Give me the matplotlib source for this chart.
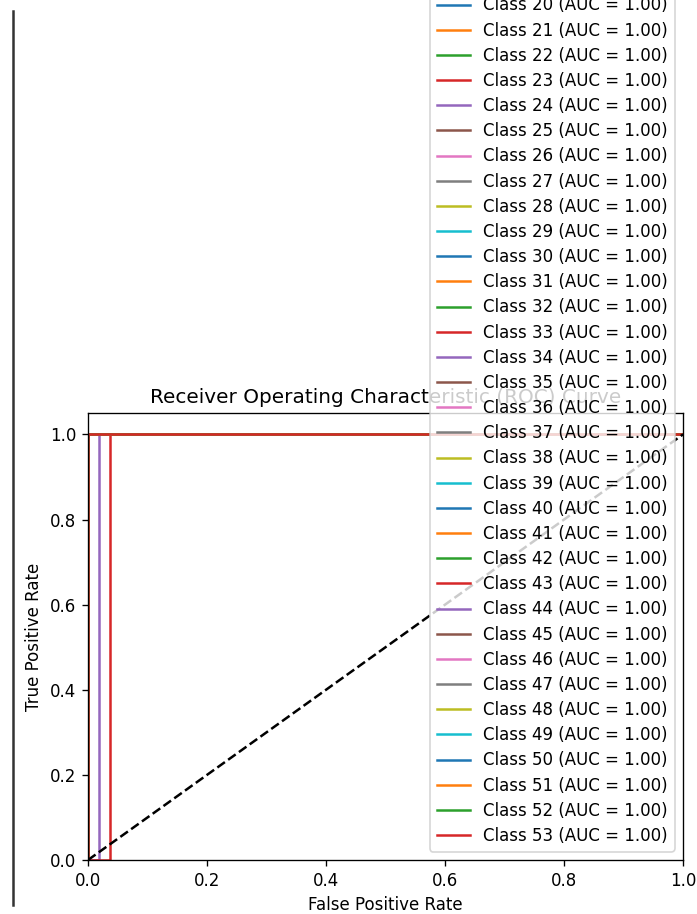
import numpy as np
import matplotlib
matplotlib.use("Agg")
import matplotlib.pyplot as plt
from matplotlib.lines import Line2D

# ROC curves for 54 classes: most are perfect, two reach TPR=1 after a small FPR step
n_classes = 54
class_ids = list(range(n_classes))
perfect_fpr = [0.0, 0.0, 1.0]
perfect_tpr = [0.0, 1.0, 1.0]
# classes whose curve jumps to TPR=1 only at a non-zero FPR
step_classes = {4: 1 / 54, 13: 2 / 54}

fig = plt.figure(figsize=(697 / 120, 914 / 120), dpi=120)
ax = fig.add_axes([0.1263, 0.0591, 0.8537, 0.4889])

for i in class_ids:
    if i in step_classes:
        s = step_classes[i]
        fpr = [0.0, s, s, 1.0]
        tpr = [0.0, 0.0, 1.0, 1.0]
    else:
        fpr = perfect_fpr
        tpr = perfect_tpr
    roc_auc = np.trapezoid(tpr, fpr)
    ax.plot(fpr, tpr, label=f"Class {i} (AUC = {roc_auc:.2f})")

ax.plot([0, 1], [0, 1], "k--")
ax.set_xlim([0.0, 1.0])
ax.set_ylim([0.0, 1.05])
ax.set_xlabel("False Positive Rate")
ax.set_ylabel("True Positive Rate")
ax.set_title("Receiver Operating Characteristic (ROC) Curve")
ax.legend(loc="lower right", labelspacing=0.43)

# border line on the left side of the cell
fig.add_artist(Line2D([13.5 / 697, 13.5 / 697], [1 - 11 / 914, 1 - 905 / 914],
                      color="#333333", lw=1.5))

fig.savefig("out.png", dpi=120)
